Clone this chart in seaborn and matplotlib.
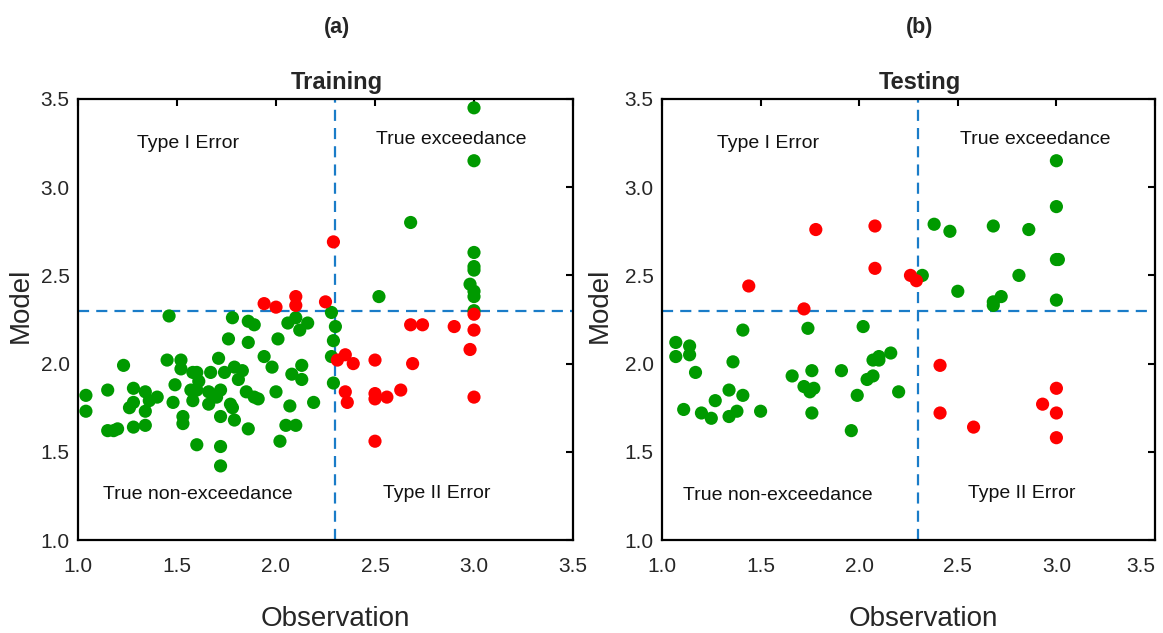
import pandas as pd
import seaborn as sns
import matplotlib
import matplotlib.pyplot as plt
matplotlib.use('Agg')

# (a) training: green = correct classification, red = misclassified
train_ok_obs = [1.04, 1.04, 1.15, 1.23, 1.15, 1.18, 1.20, 1.28, 1.28, 1.26, 1.28, 1.34, 1.36, 1.40,
                1.34, 1.34, 1.46, 1.45, 1.49, 1.52, 1.52, 1.48, 1.53, 1.53, 1.58, 1.60, 1.61, 1.57,
                1.60, 1.58, 1.60, 1.67, 1.71, 1.74, 1.66, 1.72, 1.70, 1.66, 1.77, 1.78, 1.72, 1.79,
                1.72, 1.72, 1.76, 1.78, 1.79, 1.83, 1.81, 1.85, 1.89, 1.91, 1.86, 1.86, 1.89, 1.86,
                1.94, 1.98, 2.01, 2.00, 2.02, 2.06, 2.10, 2.12, 2.16, 2.08, 2.13, 2.13, 2.07, 2.05,
                2.10, 2.19, 2.28, 2.30, 2.29, 2.28, 2.29, 3.00, 3.00, 2.68, 3.00, 3.00, 3.00, 2.98,
                3.00, 3.00, 3.00, 2.52]
train_ok_mod = [1.82, 1.73, 1.85, 1.99, 1.62, 1.62, 1.63, 1.86, 1.78, 1.75, 1.64, 1.84, 1.79, 1.81,
                1.73, 1.65, 2.27, 2.02, 1.88, 2.02, 1.97, 1.78, 1.70, 1.66, 1.95, 1.95, 1.90, 1.85,
                1.85, 1.79, 1.54, 1.95, 2.03, 1.95, 1.84, 1.85, 1.81, 1.77, 1.77, 1.75, 1.70, 1.68,
                1.53, 1.42, 2.14, 2.26, 1.98, 1.96, 1.91, 1.84, 1.81, 1.80, 2.12, 2.24, 2.22, 1.63,
                2.04, 1.98, 2.14, 1.84, 1.56, 2.23, 2.26, 2.19, 2.23, 1.94, 1.99, 1.91, 1.76, 1.65,
                1.65, 1.78, 2.29, 2.21, 2.13, 2.04, 1.89, 3.45, 3.15, 2.80, 2.63, 2.55, 2.53, 2.45,
                2.41, 2.38, 2.30, 2.38]
train_bad_obs = [1.94, 2.00, 2.10, 2.10, 2.25, 2.29, 2.31, 3.00, 2.68, 2.74, 2.90, 3.00, 2.98,
                 2.35, 2.39, 2.50, 2.69, 2.35, 2.36, 2.50, 2.50, 2.56, 2.63, 3.00, 2.50]
train_bad_mod = [2.34, 2.32, 2.38, 2.33, 2.35, 2.69, 2.02, 2.28, 2.22, 2.22, 2.21, 2.19, 2.08,
                 2.05, 2.00, 2.02, 2.00, 1.84, 1.78, 1.83, 1.80, 1.81, 1.85, 1.81, 1.56]

# (b) testing
test_ok_obs = [1.07, 1.14, 1.07, 1.14, 1.17, 1.11, 1.20, 1.25, 1.27, 1.34, 1.34, 1.38, 1.41, 1.36,
               1.41, 1.50, 1.66, 1.72, 1.75, 1.77, 1.76, 1.74, 1.76, 1.91, 1.96, 1.99, 2.02, 2.04,
               2.07, 2.07, 2.10, 2.10, 2.16, 2.20, 2.32, 2.38, 3.00, 3.00, 2.46, 2.68, 2.86, 3.00,
               3.01, 2.81, 2.50, 2.68, 2.68, 2.72, 3.00]
test_ok_mod = [2.12, 2.10, 2.04, 2.05, 1.95, 1.74, 1.72, 1.69, 1.79, 1.85, 1.70, 1.73, 1.82, 2.01,
               2.19, 1.73, 1.93, 1.87, 1.84, 1.86, 1.96, 2.20, 1.72, 1.96, 1.62, 1.82, 2.21, 1.91,
               1.93, 2.02, 2.04, 2.02, 2.06, 1.84, 2.50, 2.79, 3.15, 2.89, 2.75, 2.78, 2.76, 2.59,
               2.59, 2.50, 2.41, 2.35, 2.33, 2.38, 2.36]
test_bad_obs = [1.44, 1.78, 2.08, 2.08, 1.72, 2.26, 2.29, 2.41, 3.00, 2.93, 3.00, 2.41, 2.58, 3.00]
test_bad_mod = [2.44, 2.76, 2.78, 2.54, 2.31, 2.50, 2.47, 1.99, 1.86, 1.77, 1.72, 1.72, 1.64, 1.58]

threshold = [2.3, 2.3]
panels = ["(a)", "(b)"]
subtitles = ["Training", "Testing"]
ticks = [1.0, 1.5, 2.0, 2.5, 3.0, 3.5]
tick_labels = ["1.0", "1.5", "2.0", "2.5", "3.0", "3.5"]

GREEN = "#009a00"
RED = "#ff0000"
BLUE = "#1a7cc8"


def frame(ok_obs, ok_mod, bad_obs, bad_mod):
    return pd.DataFrame({
        "Observation": ok_obs + bad_obs,
        "Model": ok_mod + bad_mod,
        "Outcome": ["ok"] * len(ok_obs) + ["bad"] * len(bad_obs),
    })


sns.set_style("white")
plt.rcParams['font.family'] = ['Liberation Sans', 'DejaVu Sans']

fig = plt.figure(figsize=(11.63, 6.33), dpi=100)
ax_a = fig.add_axes([78 / 1163, 1 - 540 / 633, 495 / 1163, 441 / 633])
ax_b = fig.add_axes([662 / 1163, 1 - 540 / 633, 493 / 1163, 441 / 633])

data = [frame(train_ok_obs, train_ok_mod, train_bad_obs, train_bad_mod),
        frame(test_ok_obs, test_ok_mod, test_bad_obs, test_bad_mod)]

quad_text = [
    [(1.556, 3.25, "Type I Error"), (2.884, 3.273, "True exceedance"),
     (1.606, 1.26, "True non-exceedance"), (2.813, 1.265, "Type II Error")],
    [(1.537, 3.25, "Type I Error"), (2.892, 3.273, "True exceedance"),
     (1.588, 1.255, "True non-exceedance"), (2.825, 1.265, "Type II Error")],
]
title_x = [337 / 1163, 920 / 1163]
ylab_x = [-0.115, -0.126]
xlab_x = [0.519, 0.53]

for i, ax in enumerate([ax_a, ax_b]):
    sns.scatterplot(data=data[i], x="Observation", y="Model", hue="Outcome",
                    palette={"ok": GREEN, "bad": RED}, s=90, linewidth=0,
                    legend=False, ax=ax, zorder=3)
    ax.axvline(threshold[i], color=BLUE, lw=1.6, dashes=(5, 3.2), zorder=2)
    ax.axhline(threshold[i], color=BLUE, lw=1.6, dashes=(5, 3.2), zorder=2)

    ax.set_xlim(1.0, 3.5)
    ax.set_ylim(1.0, 3.5)
    ax.set_xticks(ticks)
    ax.set_xticklabels(tick_labels)
    ax.set_yticks(ticks)
    ax.set_yticklabels(tick_labels)
    ax.tick_params(direction="in", length=5, width=1.5, color="black",
                   top=True, right=True, labelsize=15, labelcolor="#262626")
    ax.tick_params(axis="x", pad=12)
    ax.tick_params(axis="y", pad=6)
    for sp in ax.spines.values():
        sp.set_linewidth(1.6)
        sp.set_color("black")

    ax.set_xlabel("Observation", fontsize=20, color="#262626")
    ax.set_ylabel("Model", fontsize=20, color="#262626")
    ax.xaxis.label.set_va("center")
    ax.yaxis.label.set_va("center")
    ax.xaxis.set_label_coords(xlab_x[i], -0.179)
    ax.yaxis.set_label_coords(ylab_x[i], 0.533)

    for x, y, t in quad_text[i]:
        ax.text(x, y, t, fontsize=14, ha="center", va="center", color="#111111")

    fig.text(title_x[i], 1 - 27 / 633, panels[i], fontsize=15.5, fontweight="bold",
             ha="center", va="center")
    fig.text(title_x[i], 1 - 82 / 633, subtitles[i], fontsize=17, fontweight="bold",
             ha="center", va="center")

# keep the last tick label of panel (b) inside the figure
ax_b.xaxis.get_major_ticks()[-1].label1.set_horizontalalignment("right")

fig.savefig("out.png", dpi=100)
plt.close()
